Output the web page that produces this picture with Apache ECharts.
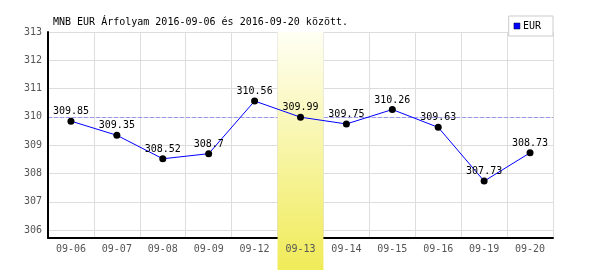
<!DOCTYPE html>
<html><head><meta charset="utf-8">
<script src="https://cdn.jsdelivr.net/npm/echarts@6/dist/echarts.min.js"></script>
<style>html,body{margin:0;padding:0;background:#fff}#c{width:600px;height:270px}</style>
</head><body><div id="c"></div>
<script>
const categories = ['09-06','09-07','09-08','09-09','09-12','09-13','09-14','09-15','09-16','09-19','09-20'];
const eurValues = [309.85,309.35,308.52,308.7,310.56,309.99,309.75,310.26,309.63,307.73,308.73];
const highlightCategory = '09-13';
const referenceValue = 310;
const yMin = 305.72, yMax = 313;
const titleText = 'MNB EUR Árfolyam 2016-09-06 és 2016-09-20 között.';
const seriesName = 'EUR';
const font = 'DejaVu Sans Mono';

const chart = echarts.init(document.getElementById('c'), null, {renderer:'canvas'});
const option = {
  animation:false,
  backgroundColor:'#fff',
  title:{text:titleText,left:53,top:17,padding:0,textStyle:{fontFamily:font,fontSize:10,fontWeight:'normal',color:'#000'}},
  legend:{data:[{name:seriesName,itemStyle:{color:'#0000ff',borderColor:'#000033',borderWidth:0.5}}], right:47, top:16, icon:'rect', itemWidth:6,itemHeight:6,itemGap:0, padding:[5,12,5,5], backgroundColor:'#fff', borderColor:'#ccc', borderWidth:1, borderRadius:0, textStyle:{fontFamily:font,fontSize:10,color:'#000',padding:[0,0,0,-2]}, z: 10},
  grid:{left:48,right:47,top:32,bottom:32,containLabel:false},
  xAxis:[{type:'category',data:categories,boundaryGap:true,axisLine:{show:true,lineStyle:{color:'#000',width:2}},axisTick:{show:false},axisLabel:{show:false},splitLine:{show:true,interval:0,lineStyle:{color:'#ddd'}},z:0},
         {type:'category',data:categories,position:'bottom',boundaryGap:true,axisLine:{show:false},axisTick:{show:false},splitLine:{show:false},axisLabel:{show:true,interval:0,margin:6,fontFamily:font,fontSize:10,color:'#555'},z:5}],
  yAxis:{type:'value',min:yMin,max:yMax,splitNumber:7,axisLine:{show:true,lineStyle:{color:'#000',width:2}},axisTick:{show:false},axisLabel:{showMinLabel:false,margin:6,fontFamily:font,fontSize:10,color:'#555'},splitLine:{lineStyle:{color:'#ddd'}}},
  series:[{name:seriesName,type:'line',data:eurValues,xAxisIndex:0,color:'#0000ff',lineStyle:{color:'#0000ff',width:1},symbol:'circle',symbolSize:7,itemStyle:{color:'#000'},label:{show:true,position:'top',distance:1,fontFamily:font,fontSize:10,color:'#000'},z:3,
    markLine:{silent:true,symbol:'none',z:0,label:{show:false},lineStyle:{color:'#9999ee',type:'dashed',width:1},emphasis:{disabled:true},data:[{yAxis:referenceValue}]}}]
};
chart.setOption(option);
const xi = categories.indexOf(highlightCategory);
const c0 = chart.convertToPixel({xAxisIndex:0}, categories[xi]);
const c1 = chart.convertToPixel({xAxisIndex:0}, categories[xi+1]);
const w = c1 - c0;
const topPx = chart.convertToPixel({yAxisIndex:0}, yMax);
chart.setOption({graphic:[{type:'rect',silent:true,z:1,shape:{x:c0-w/2,y:topPx,width:w,height:chart.getHeight()-topPx},
  style:{fill:new echarts.graphic.LinearGradient(0,0,0,1,[{offset:0,color:'#fffff4'},{offset:1,color:'#f0eb58'}])}}]});
</script></body></html>
